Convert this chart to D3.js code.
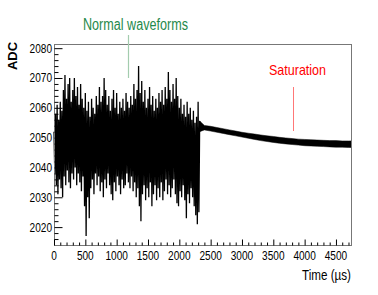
<!DOCTYPE html>
<html>
<head>
<meta charset="utf-8">
<script src="https://cdn.jsdelivr.net/npm/d3@7"></script>
<style>
  body { margin: 0; background: #fff; }
  text { font-family: "Liberation Sans", Arial, sans-serif; }
</style>
</head>
<body>
<svg id="chart"></svg>
<script>
// noisy part: upper and lower swing, one pair every 25 us from 0 to 2300
const noiseTime = d3.range(0, 2301, 25);
const noiseHi = [
  2052, 2058, 2061, 2056, 2062, 2059, 2066, 2071, 2063, 2068,
  2070, 2062, 2066, 2070, 2064, 2067, 2061, 2068, 2063, 2060,
  2065, 2059, 2062, 2057, 2063, 2060, 2058, 2064, 2061, 2067,
  2062, 2064, 2070, 2066, 2061, 2064, 2059, 2063, 2066, 2060,
  2065, 2058, 2062, 2060, 2063, 2059, 2065, 2062, 2060, 2064,
  2061, 2068, 2063, 2066, 2074, 2065, 2069, 2062, 2066, 2060,
  2063, 2067, 2061, 2064, 2059, 2063, 2060, 2065, 2062, 2066,
  2061, 2067, 2063, 2072, 2066, 2062, 2068, 2063, 2070, 2064,
  2060, 2063, 2058, 2061, 2057, 2062, 2058, 2060, 2056, 2059,
  2055, 2057, 2062
];
const noiseLo = [
  2038, 2034, 2031, 2036, 2033, 2030, 2037, 2034, 2039, 2035,
  2033, 2038, 2036, 2040, 2034, 2038, 2035, 2032, 2037, 2027,
  2017, 2030, 2023, 2033, 2036, 2031, 2038, 2034, 2037, 2032,
  2035, 2030, 2036, 2033, 2038, 2034, 2031, 2029, 2035, 2032,
  2037, 2034, 2031, 2036, 2033, 2034, 2038, 2035, 2033, 2037,
  2032, 2035, 2030, 2033, 2027, 2022, 2031, 2034, 2029, 2033,
  2030, 2035, 2027, 2031, 2034, 2029, 2033, 2030, 2035, 2029,
  2032, 2036, 2031, 2034, 2030, 2033, 2036, 2031, 2028, 2027,
  2032, 2030, 2034, 2029, 2023, 2031, 2028, 2033, 2030, 2027,
  2024, 2021, 2025
];
// saturated part: band edges
const satTime = [2325, 2400, 2500, 2600, 2700, 2800, 2900, 3000, 3100, 3200, 3300, 3400,
  3500, 3600, 3700, 3800, 3900, 4000, 4100, 4200, 4300, 4400, 4500, 4600, 4700, 4740];
const satHi = [2055.6, 2054.1, 2053.8, 2053.4, 2053.0, 2052.6, 2052.2, 2051.8, 2051.5, 2051.2,
  2050.9, 2050.6, 2050.4, 2050.1, 2049.9, 2049.7, 2049.5, 2049.4, 2049.3, 2049.2,
  2049.1, 2049.0, 2049.0, 2048.9, 2048.9, 2048.9];
const satLo = [2052.0, 2052.6, 2052.2, 2051.8, 2051.4, 2051.0, 2050.6, 2050.2, 2049.8, 2049.4,
  2049.0, 2048.7, 2048.4, 2048.1, 2047.9, 2047.7, 2047.5, 2047.3, 2047.2, 2047.1,
  2047.0, 2046.9, 2046.8, 2046.8, 2046.7, 2046.7];

const xTicks = [0, 500, 1000, 1500, 2000, 2500, 3000, 3500, 4000, 4500];
const yTicks = [2020, 2030, 2040, 2050, 2060, 2070, 2080];

const width = 378, height = 295;
const svg = d3.select("#chart").attr("width", width).attr("height", height);

const mLeft = 54, mRight = 351, mTop = 44, mBottom = 245;
const x = d3.scaleLinear().domain([0, 4740]).range([mLeft, mRight]);
const y = d3.scaleLinear().domain([2014, 2081.4]).range([mBottom, mTop]);

// zigzag through the noise swings
let pts = [];
noiseTime.forEach((t, i) => {
  pts.push([t, noiseHi[i]]);
  pts.push([t + 12.5, noiseLo[i]]);
});
pts.push([satTime[0], satHi[0]]);

svg.append("path")
  .datum(pts)
  .attr("fill", "none")
  .attr("stroke", "#000")
  .attr("stroke-width", 1.3)
  .attr("d", d3.line().x(d => x(d[0])).y(d => y(d[1])));

svg.append("path")
  .datum(satTime.map((t, i) => ({t: t, hi: satHi[i], lo: satLo[i]})))
  .attr("fill", "#000")
  .attr("stroke", "#000")
  .attr("stroke-width", 0.5)
  .attr("d", d3.area().x(d => x(d.t)).y0(d => y(d.lo)).y1(d => y(d.hi)));

// frame
svg.append("rect")
  .attr("x", mLeft + 0.5).attr("y", mTop + 0.5)
  .attr("width", mRight - mLeft).attr("height", mBottom - mTop)
  .attr("fill", "none").attr("stroke", "#777");

// y axis
const yAxis = d3.axisRight(y).tickValues(yTicks).tickSize(8).tickFormat("");
svg.append("g").attr("transform", `translate(${mLeft + 0.5},0)`).call(yAxis)
  .call(g => g.select(".domain").remove());
const yMinor = d3.range(2016, 2081, 2).filter(v => v % 10 !== 0);
svg.append("g").attr("transform", `translate(${mLeft + 0.5},0)`)
  .call(d3.axisRight(y).tickValues(yMinor).tickSize(4).tickFormat(""))
  .call(g => g.select(".domain").remove());
svg.append("g").selectAll("text").data(yTicks).join("text")
  .attr("data-sq", 0.84)
  .attr("x", mLeft - 2).attr("y", d => y(d) + 4.5)
  .attr("text-anchor", "end").attr("font-size", 12)
  .text(d => d);

// x axis
svg.append("g").attr("transform", `translate(0,${mBottom + 0.5})`)
  .call(d3.axisTop(x).tickValues(xTicks).tickSize(6).tickFormat(""))
  .call(g => g.select(".domain").remove());
const xMinor = d3.range(100, 4740, 100).filter(v => v % 500 !== 0);
svg.append("g").attr("transform", `translate(0,${mBottom + 0.5})`)
  .call(d3.axisTop(x).tickValues(xMinor).tickSize(3).tickFormat(""))
  .call(g => g.select(".domain").remove());
svg.append("g").selectAll("text").data(xTicks).join("text")
  .attr("data-sq", 0.84)
  .attr("x", d => x(d)).attr("y", 260)
  .attr("text-anchor", "middle").attr("font-size", 12)
  .text(d => d);

svg.selectAll(".tick line").attr("stroke", "#000");

// titles
svg.append("text").attr("data-w", 49).attr("x", mRight).attr("y", 280)
  .attr("text-anchor", "end").attr("font-size", 15)
  .text("Time (\u00b5s)");
svg.append("text")
  .attr("transform", "translate(17,56) rotate(-90)")
  .attr("text-anchor", "middle").attr("font-size", 13).attr("font-weight", "bold")
  .text("ADC");

// annotations
svg.append("line").attr("x1", 128.5).attr("x2", 128.5).attr("y1", 35).attr("y2", 78)
  .attr("stroke", "#a3ccae").attr("stroke-width", 1.2);
svg.append("text").attr("data-w", 105).attr("x", 83).attr("y", 30).attr("font-size", 16)
  .attr("fill", "#1f8a4c").text("Normal waveforms");
svg.append("line").attr("x1", 293.5).attr("x2", 293.5).attr("y1", 87).attr("y2", 131)
  .attr("stroke", "#f77").attr("stroke-width", 1);
svg.append("text").attr("data-w", 57).attr("x", 297.5).attr("y", 75).attr("font-size", 15)
  .attr("text-anchor", "middle").attr("fill", "#f00").text("Saturation");

// squeeze text horizontally like the condensed font of the original
svg.selectAll("text").each(function () {
  const el = d3.select(this);
  const w = this.getComputedTextLength();
  let target = null;
  if (el.attr("data-sq")) target = w * +el.attr("data-sq");
  if (el.attr("data-w")) target = +el.attr("data-w");
  if (target) el.attr("textLength", target).attr("lengthAdjust", "spacingAndGlyphs");
});
</script>
</body>
</html>
